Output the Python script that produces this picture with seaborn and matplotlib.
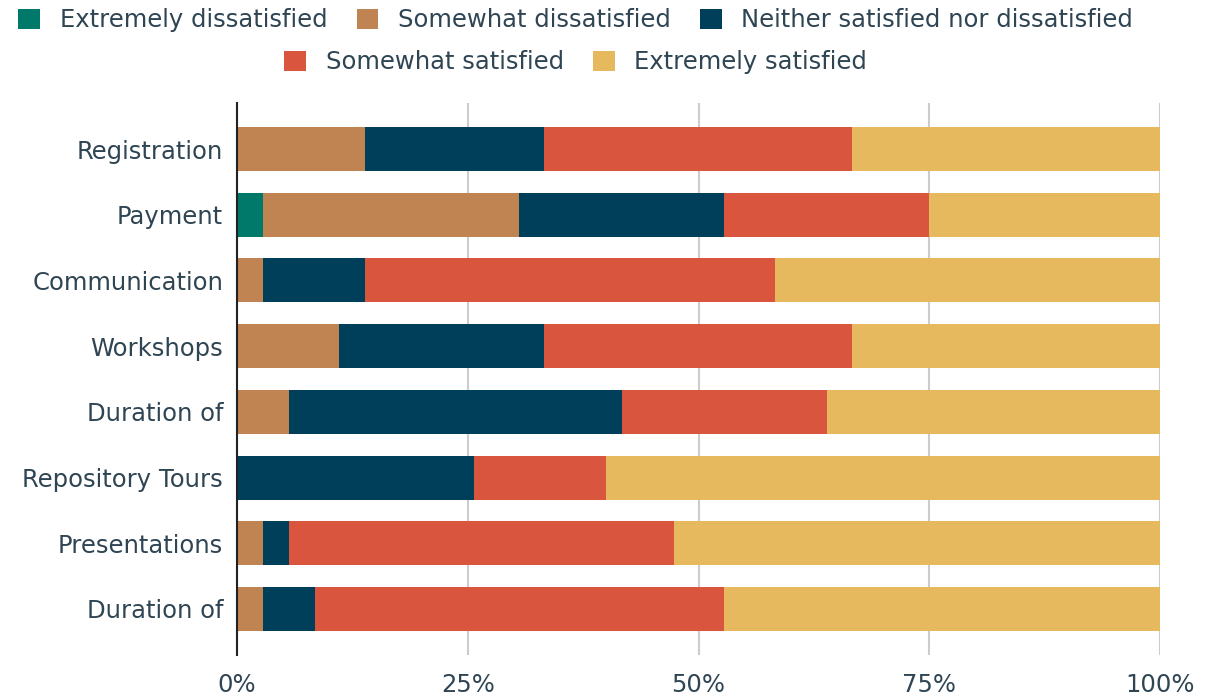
import numpy as np
import pandas as pd
import matplotlib
matplotlib.use('Agg')
import matplotlib.pyplot as plt
import seaborn as sns
from matplotlib.patches import Patch

# survey items, top to bottom
items = ['Registration', 'Payment', 'Communication', 'Workshops',
         'Duration of', 'Repository Tours', 'Presentations', 'Duration of']
levels = ['Extremely dissatisfied', 'Somewhat dissatisfied',
          'Neither satisfied nor dissatisfied', 'Somewhat satisfied',
          'Extremely satisfied']

# percent of responses per level
ext_dis = [0.0, 2.8, 0.0, 0.0, 0.0, 0.0, 0.0, 0.0]
some_dis = [13.9, 27.8, 2.8, 11.1, 5.6, 0.0, 2.8, 2.8]
neither = [19.4, 22.2, 11.1, 22.2, 36.1, 25.7, 2.8, 5.6]
some_sat = [33.3, 22.2, 44.4, 33.3, 22.2, 14.3, 41.7, 44.4]
ext_sat = [33.4, 25.0, 41.7, 33.4, 36.1, 60.0, 52.7, 47.2]

colors = ['#00796a', '#c08453', '#003f5a', '#d9553d', '#e6b95f']
text_col = '#2f4553'

# row id keeps the two "Duration of" rows apart
df = pd.DataFrame({'row': [str(i) for i in range(len(items))],
                   levels[0]: ext_dis, levels[1]: some_dis,
                   levels[2]: neither, levels[3]: some_sat, levels[4]: ext_sat})
cum = df[levels].cumsum(axis=1)

sns.set_style('white')
plt.rcParams['font.family'] = ['DejaVu Sans']

fig = plt.figure(figsize=(12.07, 6.96), dpi=100)
ax = fig.add_axes([237/1207, 41/696, 923/1207, 552/696])

# draw cumulative bars from the longest down so each level sits on top
for lev, col in reversed(list(zip(levels, colors))):
    sns.barplot(x=cum[lev], y=df['row'], color=col, width=0.67,
                orient='h', ax=ax, saturation=1, linewidth=0)

ax.set_xlim(0, 100)
ax.set_ylim(7.7, -0.7)
ax.set_yticks(range(len(items)))
ax.set_yticklabels(items)
ax.set_xticks([0, 25, 50, 75, 100])
ax.set_xticklabels(['0%', '25%', '50%', '75%', '100%'])
ax.set_xlabel('')
ax.set_ylabel('')
ax.set_axisbelow(True)
ax.grid(axis='x', color='#cccccc', linewidth=1.5)
ax.grid(axis='y', visible=False)
for s in ['top', 'right', 'bottom']:
    ax.spines[s].set_visible(False)
ax.spines['left'].set_color('#222222')
ax.spines['left'].set_linewidth(1.5)
ax.tick_params(axis='x', length=0, pad=13, labelsize=17.5, labelcolor=text_col)
ax.tick_params(axis='y', length=0, pad=10, labelsize=17.5, labelcolor=text_col)

handles = [Patch(facecolor=c, edgecolor='none') for c in colors]
leg1 = fig.legend(handles[:3], levels[:3], loc='center', ncol=3,
                  bbox_to_anchor=(0.477, 1 - 20/696), frameon=False,
                  fontsize=17.5, handlelength=0.9, handleheight=0.9,
                  handletextpad=0.8, columnspacing=1.2, labelcolor=text_col)
leg2 = fig.legend(handles[3:], levels[3:], loc='center', ncol=2,
                  bbox_to_anchor=(0.477, 1 - 62/696), frameon=False,
                  fontsize=17.5, handlelength=0.9, handleheight=0.9,
                  handletextpad=0.8, columnspacing=1.2, labelcolor=text_col)

plt.savefig('out.png', dpi=100)
plt.close()
